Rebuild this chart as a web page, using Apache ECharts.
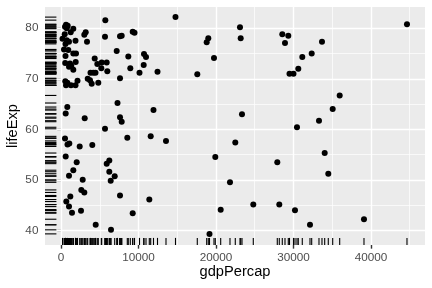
<!DOCTYPE html>
<html><head><meta charset="utf-8">
<script src="https://cdn.jsdelivr.net/npm/echarts@6/dist/echarts.min.js"></script>
<style>html,body{margin:0;padding:0;background:#fff}#c{width:432px;height:288px}</style>
</head><body><div id="c"></div>
<script>
const gdpPercap = [
5720,645,865,516,735,1587,1252,477,3187,3006,9252,9484,7832,7613,5677,194,735,1032,1871,3355,
581,387,942,1587,1935,7187,581,8684,10710,10968,4348,542,1161,1897,5252,5897,4684,1032,1329,1587,
8942,10671,5200,5974,3806,4168,4452,10129,12452,555,813,2129,3445,3742,3961,7613,4813,645,1290,1871,
813,606,7290,11935,3058,7613,7832,5677,516,8555,839,1071,2413,4039,11574,13548,606,2026,6232,5897,
1587,6232,6929,1032,2800,6413,2619,3006,1200,7613,11394,684,1032,1419,2581,9252,4477,6452,
14774,19006,18800,19742,17587,23097,23187,28555,29329,28903,29484,30000,30619,31135,32348,33677,44645,
23355,30452,33290,35058,35961,34026,34490,30193,32129,39097,22490,19910,27910,21806,20606,24813,28168,19161
];
const lifeExp = [
81.6,80.7,80.5,80.3,80.0,79.9,79.2,78.8,79.2,78.7,79.3,79.1,78.5,78.4,78.3,77.9,77.6,77.3,77.5,77.3,
76.9,75.8,75.7,75.0,75.0,75.5,74.5,74.4,74.9,74.3,74.0,73.1,73.0,73.3,73.2,73.2,72.9,72.4,72.5,71.8,
72.1,72.7,72.1,71.5,71.2,71.2,71.2,71.2,71.4,69.5,69.2,69.6,70.0,69.7,69.0,70.1,69.2,68.7,68.7,68.7,
64.4,63.1,65.2,63.8,62.2,62.4,61.5,60.1,58.2,58.3,57.0,57.2,56.6,56.9,58.6,57.7,54.6,53.5,53.8,53.2,
51.9,51.6,50.7,50.8,50.0,49.8,48.0,47.5,46.7,46.9,46.1,45.7,44.7,43.5,43.9,43.4,41.1,40.1,
82.2,78.0,77.2,74.1,70.9,80.2,78.0,78.8,78.5,77.1,71.0,71.0,72.0,74.3,75.0,77.3,80.8,
63.0,60.4,61.7,64.0,66.7,55.3,51.2,44.0,41.1,42.2,57.4,54.5,53.5,49.5,44.1,45.1,45.1,39.3
];
const xMajor = [0, 10000, 20000, 30000, 40000];
const xMinor = [5000, 15000, 25000, 35000, 45000];
const yMajor = [40, 50, 60, 70, 80];
const yMinor = [45, 55, 65, 75];
const X_MIN = -2065, X_MAX = 46970, Y_MIN = 37.1, Y_MAX = 84.2;

const pts = gdpPercap.map((g, i) => [g, lifeExp[i]]);
const font = '"Liberation Sans", Arial, sans-serif';
const gridLines = [
  ...xMinor.map(v => ({xAxis: v, lineStyle: {width: 0.71}})),
  ...yMinor.map(v => ({yAxis: v, lineStyle: {width: 0.71}})),
  ...xMajor.map(v => ({xAxis: v, lineStyle: {width: 1.42}})),
  ...yMajor.map(v => ({yAxis: v, lineStyle: {width: 1.42}}))
];
const chart = echarts.init(document.getElementById('c'), null, {renderer: 'canvas'});
chart.setOption({
  animation: false,
  grid: {left: 45, right: 7, top: 7, bottom: 43, show: true, backgroundColor: '#EBEBEB', borderWidth: 0,
         containLabel: false, outerBoundsMode: 'none'},
  xAxis: {
    type: 'value', min: X_MIN, max: X_MAX,
    name: 'gdpPercap', nameLocation: 'middle', nameGap: 19.5, nameMoveOverlap: false,
    nameTextStyle: {fontFamily: font, fontSize: 14.67, color: '#000'},
    axisLine: {show: false},
    axisTick: {show: true, length: 3.67, lineStyle: {color: '#333333', width: 1.42}, customValues: xMajor},
    axisLabel: {customValues: xMajor, margin: 6.6, fontFamily: font, fontSize: 11.73, color: '#4D4D4D',
                formatter: v => String(v)},
    splitLine: {show: false}
  },
  yAxis: {
    type: 'value', min: Y_MIN, max: Y_MAX,
    name: 'lifeExp', nameLocation: 'middle', nameGap: 25, nameMoveOverlap: false,
    nameTextStyle: {fontFamily: font, fontSize: 14.67, color: '#000'},
    axisLine: {show: false},
    axisTick: {show: true, length: 3.67, lineStyle: {color: '#333333', width: 1.42}, customValues: yMajor},
    axisLabel: {customValues: yMajor, margin: 6.6, fontFamily: font, fontSize: 11.73, color: '#4D4D4D',
                formatter: v => String(v)},
    splitLine: {show: false}
  },
  series: [
    {
      type: 'line', data: [], silent: true, z: 1,
      markLine: {
        z: 1, silent: true, symbol: ['none', 'none'], label: {show: false}, animation: false,
        lineStyle: {color: '#FFFFFF', type: 'solid', opacity: 1},
        emphasis: {disabled: true},
        data: gridLines
      }
    },
    {
      type: 'custom', z: 5, silent: true, data: pts, clip: false,
      encode: {x: 0, y: 1},
      renderItem: function (params, api) {
        const g = api.value(0), l = api.value(1);
        const pb = api.coord([g, Y_MIN]);
        const pl = api.coord([X_MIN, l]);
        return {
          type: 'group', children: [
            {type: 'line', shape: {x1: pb[0], y1: pb[1], x2: pb[0], y2: pb[1] - 7.1}, style: {stroke: '#000', lineWidth: 1.1}},
            {type: 'line', shape: {x1: pl[0], y1: pl[1], x2: pl[0] + 11.4, y2: pl[1]}, style: {stroke: '#000', lineWidth: 1.1}}
          ]
        };
      }
    },
    {type: 'scatter', z: 10, data: pts, symbolSize: 6, itemStyle: {color: '#000', opacity: 1}, silent: true}
  ]
});
</script></body></html>
